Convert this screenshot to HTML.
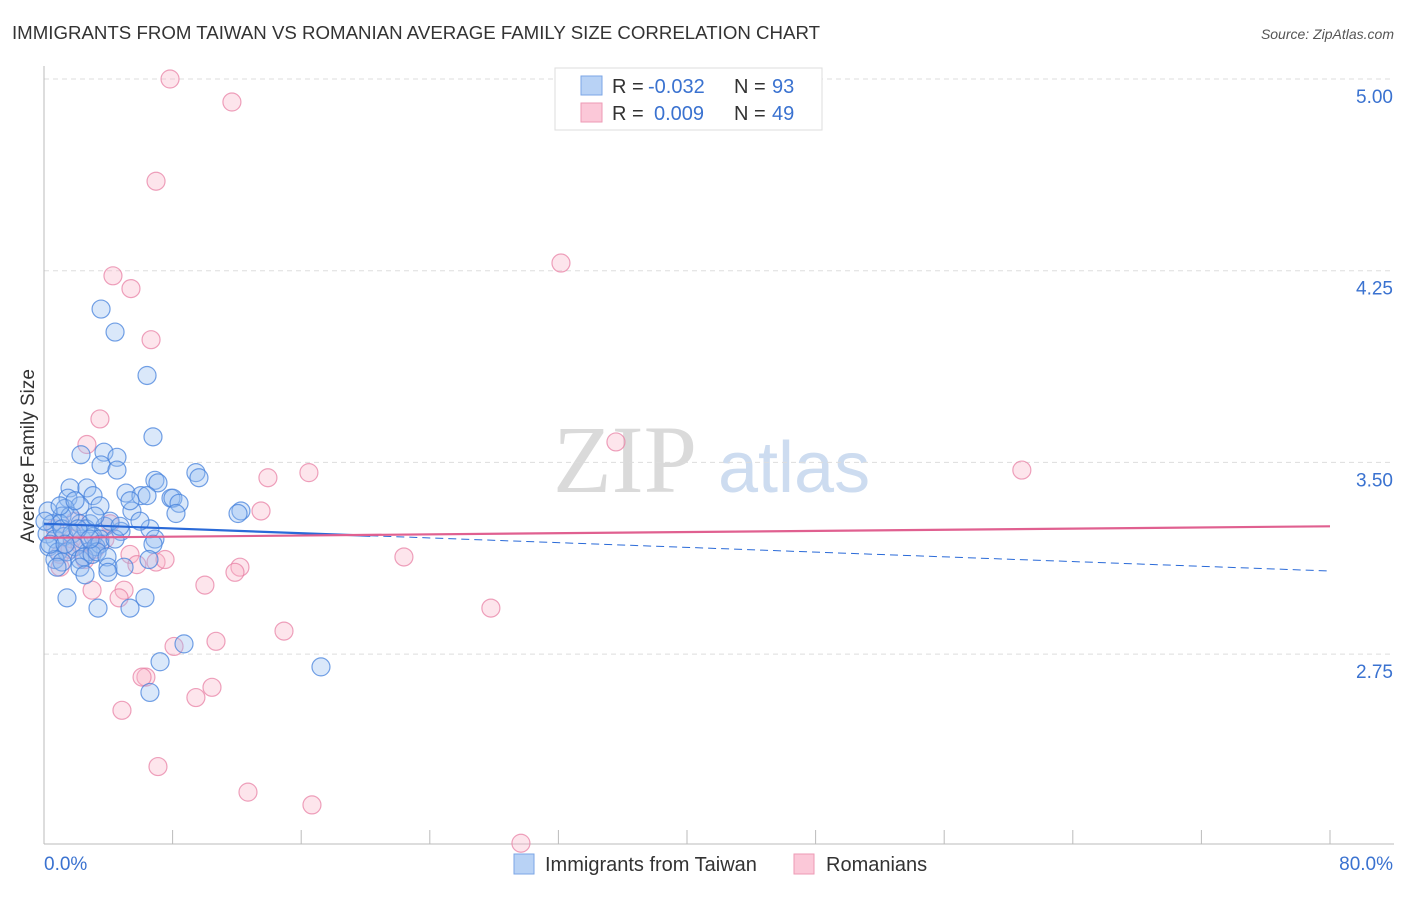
<!DOCTYPE html>
<html><head><meta charset="utf-8"><style>
body{margin:0;background:#fff;font-family:"Liberation Sans",sans-serif}
</style></head><body>
<svg id="c" width="1406" height="892" xmlns="http://www.w3.org/2000/svg" style="font-family:'Liberation Sans',sans-serif">
<text x="12" y="39" font-size="18" fill="#333" textLength="808" lengthAdjust="spacingAndGlyphs">IMMIGRANTS FROM TAIWAN VS ROMANIAN AVERAGE FAMILY SIZE CORRELATION CHART</text>
<text x="1394" y="39" font-size="14" fill="#555" font-style="italic" text-anchor="end">Source: ZipAtlas.com</text>
<g>
<text x="553" y="492" font-size="96" font-family="Liberation Serif,serif" fill="#dadada">ZIP</text>
<text x="718" y="492" font-size="72" fill="#cddcf0">atlas</text>
</g>
<g id="grid"></g>
<g id="axes"></g>
<g id="pts"></g>
<g id="trend"></g>
<text transform="translate(34,456) rotate(-90)" font-size="19" fill="#333" text-anchor="middle">Average Family Size</text>
<g>
<rect x="555" y="68" width="267" height="62" fill="#fff" stroke="#ddd"/>
<rect x="581" y="76" width="21" height="19" fill="#b8d2f5" stroke="#7ba6e6"/>
<rect x="581" y="103" width="21" height="19" fill="#fbc8d8" stroke="#ee9ab5"/>
<text x="612" y="93" font-size="20" fill="#333">R =</text>
<text x="648" y="93" font-size="20" fill="#3a72d0">-0.032</text>
<text x="734" y="93" font-size="20" fill="#333">N =</text>
<text x="772" y="93" font-size="20" fill="#3a72d0">93</text>
<text x="612" y="120" font-size="20" fill="#333">R =</text>
<text x="654" y="120" font-size="20" fill="#3a72d0">0.009</text>
<text x="734" y="120" font-size="20" fill="#333">N =</text>
<text x="772" y="120" font-size="20" fill="#3a72d0">49</text>
</g>
<g>
<rect x="514" y="854" width="20" height="20" fill="#b8d2f5" stroke="#7ba6e6"/>
<text x="545" y="871" font-size="20" fill="#333">Immigrants from Taiwan</text>
<rect x="794" y="854" width="20" height="20" fill="#fbc8d8" stroke="#ee9ab5"/>
<text x="826" y="871" font-size="20" fill="#333">Romanians</text>
</g>
</svg>
<script>
const yTicks=[5.00,4.25,3.50,2.75];
const yTickLabels=["5.00","4.25","3.50","2.75"];
const xTickCount=10;
const xLabels=["0.0%","80.0%"];
const blueX=[3.55,4.42,6.41,6.78,2.30,3.73,4.54,3.55,4.54,9.45,9.64,6.90,7.09,5.10,1.62,2.67,1.49,3.05,6.03,6.41,7.90,8.02,8.40,8.21,5.47,3.48,2.24,1.31,1.12,0.25,12.25,12.07,0.50,1.00,2.24,2.86,3.79,4.79,6.59,4.11,0.19,0.68,1.24,1.74,2.36,3.05,3.48,6.90,6.78,0.31,0.87,1.43,2.74,3.23,3.48,1.93,0.68,1.12,2.24,2.49,2.99,3.30,3.92,0.81,3.98,2.24,4.98,6.53,3.98,6.28,1.43,3.36,5.35,8.71,7.22,6.59,17.23,1.12,1.62,2.61,0.06,0.37,1.31,2.11,2.86,4.42,4.73,1.00,3.17,5.35,5.97,1.93,2.55];
const blueY=[4.10,4.01,3.84,3.60,3.53,3.54,3.52,3.49,3.47,3.46,3.44,3.43,3.42,3.38,3.40,3.40,3.36,3.37,3.37,3.37,3.36,3.36,3.34,3.30,3.31,3.33,3.33,3.32,3.29,3.31,3.31,3.30,3.26,3.26,3.26,3.26,3.25,3.23,3.24,3.27,3.22,3.20,3.21,3.22,3.20,3.21,3.20,3.20,3.18,3.17,3.15,3.15,3.15,3.17,3.18,3.17,3.12,3.11,3.12,3.13,3.14,3.15,3.13,3.09,3.09,3.09,3.09,3.12,3.07,2.97,2.97,2.93,2.93,2.79,2.72,2.60,2.70,3.24,3.29,3.24,3.27,3.18,3.18,3.24,3.20,3.20,3.25,3.33,3.29,3.35,3.27,3.35,3.06];
const pinkX=[7.84,11.69,6.97,32.16,4.29,5.41,6.66,3.48,2.67,35.58,60.83,16.48,13.93,13.50,4.11,1.74,5.35,6.97,5.78,12.19,11.88,7.53,22.39,10.01,4.98,2.99,4.67,27.80,14.93,10.70,8.09,10.45,6.34,6.10,9.45,4.85,7.09,12.69,16.67,29.67,1.00,1.00,1.62,2.24,3.17,3.79,2.55,0.68,1.93];
const pinkY=[5.00,4.91,4.60,4.28,4.23,4.18,3.98,3.67,3.57,3.58,3.47,3.46,3.44,3.31,3.26,3.20,3.14,3.11,3.10,3.09,3.07,3.12,3.13,3.02,3.00,3.00,2.97,2.93,2.84,2.80,2.78,2.62,2.66,2.66,2.58,2.53,2.31,2.21,2.16,2.01,3.14,3.09,3.16,3.18,3.16,3.20,3.12,3.24,3.27];
const blueTrend=[3.26,3.075];
const pinkTrend=[3.205,3.25];
const NS="http://www.w3.org/2000/svg";
const X=v=>44+v/80*1286, Y=v=>79+(5-v)*255.6;
function mk(t,a,p){const e=document.createElementNS(NS,t);for(const k in a)e.setAttribute(k,a[k]);p.appendChild(e);return e;}
const g=document.getElementById('grid'),ax=document.getElementById('axes'),pts=document.getElementById('pts'),tr=document.getElementById('trend');
yTicks.forEach((v,i)=>{
 const l=mk('line',{x1:44,x2:1394,y1:Y(v),y2:Y(v),stroke:'#ddd','stroke-dasharray':'5,4'},g);
 
 
 const t=mk('text',{x:1393,y:Y(v)+24,'font-size':19,fill:'#3a72d0','text-anchor':'end'},ax);
 t.textContent=yTickLabels[i];
 
 
});
const yl=mk('line',{x1:44,x2:44,y1:66,y2:844,stroke:'#bbb'},ax);


const xl=mk('line',{x1:44,x2:1394,y1:844,y2:844,stroke:'#bbb'},ax);


for(let i=0;i<=xTickCount;i++){
 const t=mk('line',{x1:X(i*8),x2:X(i*8),y1:830,y2:844,stroke:'#bbb'},ax);
 
 
}
const x0=mk('text',{x:44,y:870,'font-size':19,fill:'#3a72d0'},ax);x0.textContent=xLabels[0];


const x1=mk('text',{x:1393,y:870,'font-size':19,fill:'#3a72d0','text-anchor':'end'},ax);x1.textContent=xLabels[1];


pinkX.forEach((v,i)=>{
 const c=mk('circle',{cx:X(v),cy:Y(pinkY[i]),r:9,fill:'rgba(248,180,200,0.35)',stroke:'rgba(232,130,165,0.75)','stroke-width':1.2},pts);
 
 
});
blueX.forEach((v,i)=>{
 const c=mk('circle',{cx:X(v),cy:Y(blueY[i]),r:9,fill:'rgba(150,190,240,0.35)',stroke:'rgba(70,130,220,0.75)','stroke-width':1.2},pts);
 
 
});
const bAt=x=>blueTrend[0]+(blueTrend[1]-blueTrend[0])*x/80;
const b1=mk('line',{x1:X(0),y1:Y(bAt(0)),x2:X(20.3),y2:Y(bAt(20.3)),stroke:'#2a6ad8','stroke-width':2.2},tr);


const b2=mk('line',{x1:X(20.3),y1:Y(bAt(20.3)),x2:X(80),y2:Y(bAt(80)),stroke:'#2a6ad8','stroke-width':1,'stroke-dasharray':'8,5'},tr);


const p1=mk('line',{x1:X(0),y1:Y(pinkTrend[0]),x2:X(80),y2:Y(pinkTrend[1]),stroke:'#e06090','stroke-width':2.2},tr);


</script>
</body></html>
